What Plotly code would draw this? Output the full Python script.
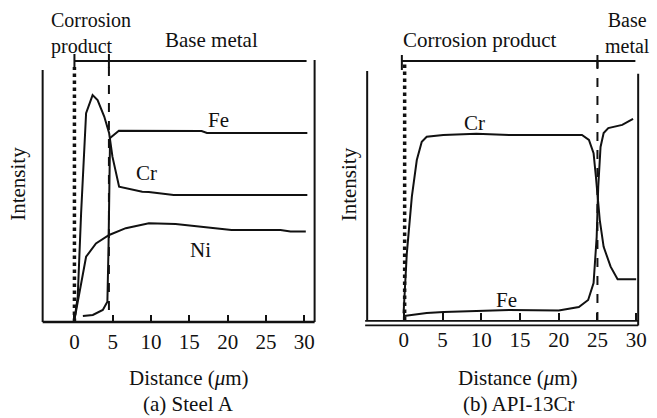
import plotly.graph_objects as go

# ---- (a) Steel A: line-scan profiles across the corrosion product ----
a_fe_x = [1.1, 2.4, 3.7, 4.3, 4.45, 4.55, 4.65, 5.8, 11.0, 16.6, 17.3, 30.4]
a_fe_y = [2.3, 2.7, 4.6, 7.7, 28.7, 54.2, 70.2, 73.0, 73.0, 72.9, 72.1, 72.1]

a_cr_x = [0.0, 0.43, 0.87, 1.52, 2.37, 3.02, 3.89, 4.53, 4.96, 5.83, 8.85, 9.7, 12.95, 30.4]
a_cr_y = [0.8, 9.7, 41.5, 79.7, 86.6, 84.7, 78.4, 72.0, 63.1, 51.6, 49.7, 49.6, 48.5, 48.5]

a_ni_x = [0.0, 0.65, 1.52, 2.81, 4.53, 6.70, 9.72, 13.2, 16.2, 20.5, 26.9, 28.2, 30.2]
a_ni_y = [0.8, 11.0, 24.9, 30.0, 33.2, 35.8, 37.7, 37.4, 36.4, 35.1, 35.1, 34.5, 34.5]

# ---- (b) API-13Cr ----
b_cr_x = [-0.04, 0.38, 1.03, 1.67, 2.31, 2.95, 5.09, 9.36, 13.6, 23.0, 23.9, 24.5, 24.8,
          25.3, 25.8, 26.7, 27.6, 30.0]
b_cr_y = [3.3, 26.2, 47.8, 61.8, 68.8, 70.7, 71.4, 71.8, 71.4, 71.4, 69.5, 64.4, 55.5,
          38.9, 28.7, 21.1, 16.3, 16.3]

b_fe_x = [0.0, 2.95, 5.13, 13.6, 20.0, 22.6, 23.8, 24.5, 24.9, 25.1, 25.4, 25.8, 26.4,
          28.2, 29.6]
b_fe_y = [2.3, 3.4, 3.8, 4.6, 4.4, 5.7, 8.4, 14.9, 32.4, 51.5, 66.8, 72.1, 74.0, 75.2, 77.5]

tick_vals = [0, 5, 10, 15, 20, 25, 30]
tick_text = ["0", "5", "10", "15", "20", "25", "30"]

# layer boundaries (µm)
a_boundary = 4.5
b_boundary = 25.0

W, H = 657, 418
FONT = "Liberation Serif, Times New Roman, DejaVu Serif, serif"
FS = 21
INK = "#111111"

fig = go.Figure()

def curve(x, y, xa, ya):
    fig.add_trace(go.Scatter(x=x, y=y, mode="lines", xaxis=xa, yaxis=ya,
                             line=dict(color=INK, width=2), hoverinfo="skip",
                             showlegend=False))

curve(a_fe_x, a_fe_y, "x", "y")
curve(a_cr_x, a_cr_y, "x", "y")
curve(a_ni_x, a_ni_y, "x", "y")
curve(b_cr_x, b_cr_y, "x2", "y2")
curve(b_fe_x, b_fe_y, "x2", "y2")

shapes = []

def seg(x0, y0, x1, y1, xr, yr, width=2, dash="solid"):
    shapes.append(dict(type="line", x0=x0, y0=y0, x1=x1, y1=y1, xref=xr, yref=yr,
                       line=dict(color=INK, width=width, dash=dash)))

# panel (a) frame
seg(-4.15, 0, 31.35, 0, "x", "y", 2.5)
seg(-4.15, 0, -4.15, 96.2, "x", "y", 2)
seg(31.35, 0, 31.35, 100, "x", "y", 2)
# panel (a) bracket and boundaries
seg(0, 99.6, 30.3, 99.6, "x", "y", 2)
seg(0, 96.9, 0, 102.3, "x", "y", 2)
seg(a_boundary, 96.9, a_boundary, 102.3, "x", "y", 2)
seg(0, 0, 0, 97.3, "x", "y", 3.5, "dot")
seg(a_boundary, 4.6, a_boundary, 99.6, "x", "y", 2, "dash")

# panel (b) frame
seg(-5.0, 0.4, 30.26, 0.4, "x2", "y2", 1.8)
seg(-5.0, -1.3, 30.26, -1.3, "x2", "y2", 1.8)
seg(-4.74, 0.4, -4.74, 95.8, "x2", "y2", 2)
seg(30.26, -1.3, 30.26, 94.7, "x2", "y2", 2)
# panel (b) bracket and boundaries
seg(-0.26, 99.6, 29.9, 99.6, "x2", "y2", 2)
seg(-0.26, 96.2, -0.26, 101.9, "x2", "y2", 2)
seg(b_boundary, 96.9, b_boundary, 101.9, "x2", "y2", 2)
seg(0.1, 0.8, 0.1, 99.6, "x2", "y2", 3.5, "dot")
seg(b_boundary, 0.4, b_boundary, 99.6, "x2", "y2", 2, "dash")

ann = []

def txt(x, y, s, xr="paper", yr="paper", xanchor="center", angle=0, size=FS, align="center"):
    if xr == "paper":
        x = x / W
    if yr == "paper":
        y = 1 - y / H
    ann.append(dict(x=x, y=y, xref=xr, yref=yr, text=s, showarrow=False,
                    xanchor=xanchor, yanchor="middle", textangle=angle, align=align,
                    font=dict(family=FONT, size=size, color=INK)))

# headings above the brackets
txt(49, 33, "Corrosion<br>product", xanchor="left", size=20, align="left")
txt(213, 40, "Base metal")
txt(484, 40, "Corrosion product")
txt(632, 33, "Base<br>metal", size=20)

# curve labels
txt(18.8, 77.1, "Fe", "x", "y")
txt(9.46, 56.9, "Cr", "x", "y")
txt(16.45, 27.5, "Ni", "x", "y")
txt(9.1, 76.0, "Cr", "x2", "y2")
txt(13.2, 8.4, "Fe", "x2", "y2")

# axis titles and captions
txt(18, 184, "Intensity", angle=-90)
txt(352, 184, "Intensity", angle=-90)
txt(190, 378, "Distance (<i>μ</i>m)")
txt(522, 378, "Distance (<i>μ</i>m)")
txt(190, 404, "(a) Steel A")
txt(522, 404, "(b) API-13Cr")

ydom = [1 - 327.24 / H, 1 - 45 / H]
yrange = [-2, 105.7]

def xaxis(domain_px, rng, base_px):
    return dict(domain=[domain_px[0] / W, domain_px[1] / W], range=rng,
                anchor="free", position=1 - base_px / H,
                tickvals=tick_vals, ticktext=tick_text,
                ticks="inside", ticklen=7, tickwidth=2, tickcolor=INK,
                ticklabelstandoff=5,
                tickfont=dict(family=FONT, size=FS, color=INK),
                showgrid=False, zeroline=False, showline=False, fixedrange=True)

fig.update_layout(
    width=W, height=H,
    margin=dict(l=0, r=0, t=0, b=0),
    paper_bgcolor="white", plot_bgcolor="white",
    font=dict(family=FONT, size=FS, color=INK),
    xaxis=xaxis([39.5, 320.5], [-4.6, 31.8], 322),
    yaxis=dict(domain=ydom, range=yrange, visible=False, anchor="x", fixedrange=True),
    xaxis2=xaxis([366.4, 646.5], [-5.2, 30.7], 320),
    yaxis2=dict(domain=ydom, range=yrange, visible=False, anchor="x2", fixedrange=True),
    shapes=shapes,
    annotations=ann,
    showlegend=False,
)

fig.write_html("out.html")
